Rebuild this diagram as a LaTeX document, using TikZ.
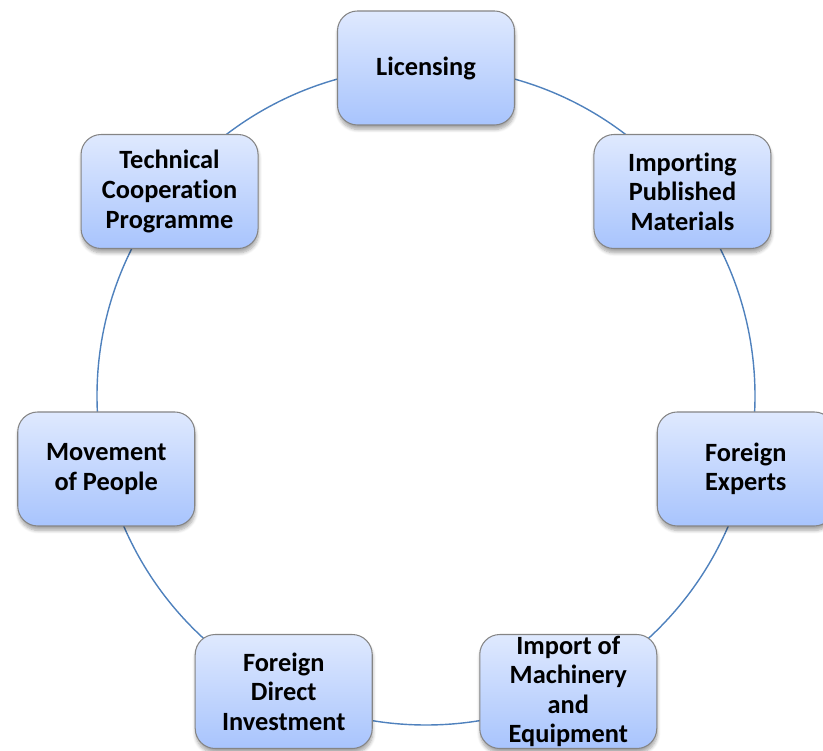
\documentclass[tikz,border=0pt]{standalone}
\usepackage{fontspec}
\setmainfont{Carlito}[Ligatures=NoCommon]
\usetikzlibrary{shadows.blur}

\definecolor{boxtop}{HTML}{DFE9FE}
\definecolor{boxbottom}{HTML}{A8C4FD}
\definecolor{boxline}{HTML}{858585}
\definecolor{ringblue}{HTML}{4F81BD}

\tikzset{
    stage/.style={draw=boxline, line width=0.6pt, rectangle, rounded corners=0.4cm,
        minimum width=3.54cm, minimum height=2.28cm, inner sep=0pt,
        top color=boxtop, bottom color=boxbottom, align=center,
        font=\fontsize{15}{16.8}\selectfont\bfseries,
        blur shadow={shadow xshift=0.3pt, shadow yshift=-2.5pt, shadow blur steps=6, shadow opacity=35}},
    ring/.style={draw=ringblue, line width=0.8pt}
}

\begin{document}
\begin{tikzpicture}
        \useasboundingbox (-8.52,7.92) rectangle (7.94,-7.10);
        \coordinate (hub) at (0,0);

        % Ring
        \draw[ring] (hub) circle[radius=6.58];

        % Nodes
        \node (licensing) [stage] at (90:6.56) {Licensing};
        \node (published) [stage] at (38.57:6.56) {Importing\\Published\\Materials};
        \node (experts) [stage] at (-12.86:6.56) {Foreign\\Experts};
        \node (machinery) [stage] at (-64.29:6.56) {Import of\\Machinery\\and\\Equipment};
        \node (fdi) [stage] at (-115.71:6.56) {Foreign\\Direct\\Investment};
        \node (people) [stage] at (-167.14:6.56) {Movement\\of People};
        \node (cooperation) [stage] at (141.43:6.56) {Technical\\Cooperation\\Programme};
    \end{tikzpicture}
\end{document}
